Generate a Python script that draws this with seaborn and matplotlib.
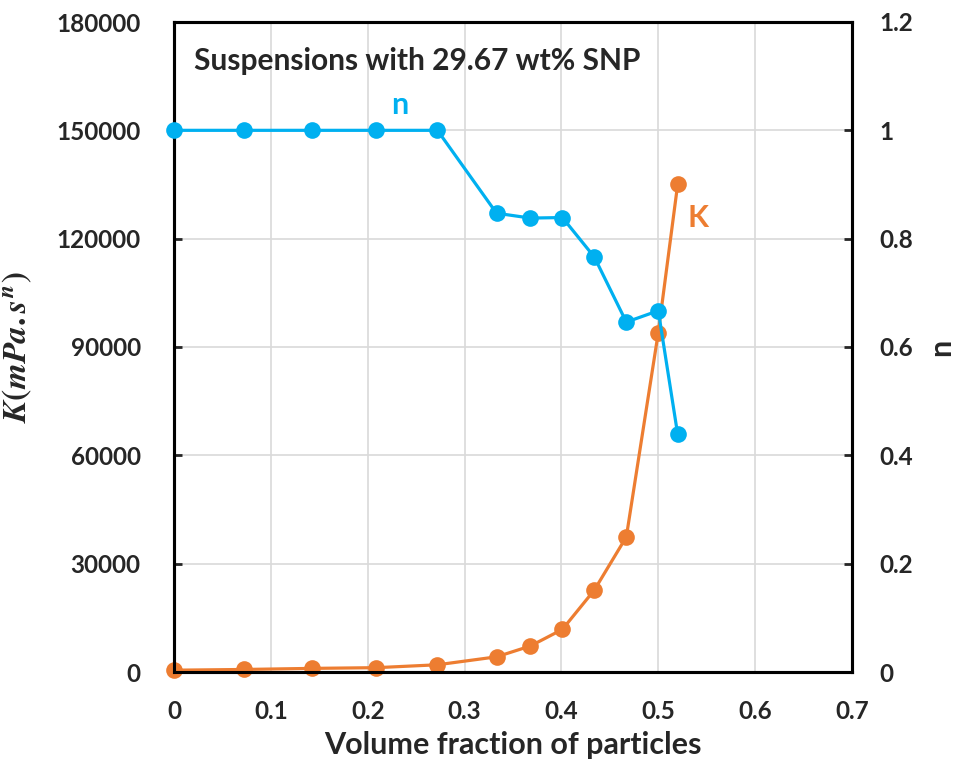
import matplotlib
matplotlib.use("Agg")
import matplotlib.pyplot as plt
import seaborn as sns
import pandas as pd
from matplotlib.ticker import FuncFormatter

# ---- data ----
phi = [0.0, 0.072, 0.142, 0.209, 0.272, 0.333, 0.368, 0.401, 0.434, 0.467, 0.500, 0.520]
K_values = [500, 700, 1000, 1200, 2000, 4200, 7200, 11800, 22700, 37400, 94000, 135000]
n_values = [1.0, 1.0, 1.0, 1.0, 1.0, 0.847, 0.838, 0.839, 0.766, 0.646, 0.667, 0.439]

x_ticks = [0, 0.1, 0.2, 0.3, 0.4, 0.5, 0.6, 0.7]
K_ticks = [0, 30000, 60000, 90000, 120000, 150000, 180000]
n_ticks = [0, 0.2, 0.4, 0.6, 0.8, 1.0, 1.2]

title_text = "Suspensions with 29.67 wt% SNP"
x_label = "Volume fraction of particles"
K_label = r"$K(mPa.s^n)$"
n_label = "n"

BLUE = "#00B0F0"
ORANGE = "#ED7D31"
GRID = "#D9D9D9"

sns.set_style("white")
plt.rcParams["font.family"] = ["Lato", "DejaVu Sans"]
plt.rcParams["font.weight"] = "bold"
plt.rcParams["mathtext.fontset"] = "stix"

df_K = pd.DataFrame({"phi": phi, "K": K_values})
df_n = pd.DataFrame({"phi": phi, "n": n_values})

fig = plt.figure(figsize=(9.62, 7.68), dpi=100)
ax = fig.add_axes([174 / 962, 96 / 768, 678 / 962, 650 / 768])
ax2 = ax.twinx()

sns.lineplot(data=df_K, x="phi", y="K", ax=ax, color=ORANGE, marker="o",
             markersize=12, markeredgewidth=0, linewidth=2.3, zorder=3, clip_on=False)
sns.lineplot(data=df_n, x="phi", y="n", ax=ax2, color=BLUE, marker="o",
             markersize=12, markeredgewidth=0, linewidth=2.3, zorder=3, clip_on=False)

ax.set_xlim(0, 0.7)
ax.set_ylim(0, 180000)
ax2.set_ylim(0, 1.2)
ax.set_xticks(x_ticks)
ax.set_yticks(K_ticks)
ax2.set_yticks(n_ticks)
ax.xaxis.set_major_formatter(FuncFormatter(lambda v, p: f"{v:g}"))
ax2.yaxis.set_major_formatter(FuncFormatter(lambda v, p: f"{v:g}"))

ax.grid(True, color=GRID, linewidth=1.2)
ax.set_axisbelow(True)
ax2.grid(False)

for a in (ax, ax2):
    for s in a.spines.values():
        s.set_color("black")
        s.set_linewidth(2.2)

ax.tick_params(axis="x", length=0, pad=20, labelsize=17.5)
ax.tick_params(axis="y", direction="in", length=6, width=2, pad=24, labelsize=17.5)
ax2.tick_params(axis="y", direction="in", length=6, width=2, pad=20, labelsize=17.5)
for lab in ax.get_xticklabels() + ax.get_yticklabels() + ax2.get_yticklabels():
    lab.set_fontweight("bold")

ax.set_xlabel(x_label, fontsize=22, fontweight="bold", labelpad=6)
ax.set_ylabel(K_label, fontsize=24, labelpad=16)
ax2.set_ylabel(n_label, fontsize=22, fontweight="bold", labelpad=10)

ax.text(0.03, 0.926, title_text, transform=ax.transAxes, fontsize=21.5,
        fontweight="bold", va="baseline", ha="left")
ax2.text(0.2326, 1.047, "n", color=BLUE, fontsize=22, fontweight="bold",
         ha="center", va="center")
ax2.text(0.541, 0.838, "K", color=ORANGE, fontsize=22, fontweight="bold",
         ha="center", va="center")

ax.figure.savefig("out.png", dpi=100)
